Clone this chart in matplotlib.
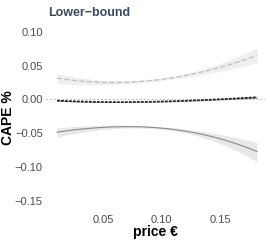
import numpy as np
import matplotlib
matplotlib.use("Agg")
import matplotlib.pyplot as plt

plt.rcParams['font.family'] = ['Liberation Sans', 'DejaVu Sans']

# data
price = [0.0107, 0.03, 0.05, 0.077, 0.107, 0.135, 0.16, 0.1816]
upper_fit = [0.0315, 0.027, 0.025, 0.026, 0.031, 0.041, 0.052, 0.065]
upper_lo = [0.0225, 0.022, 0.0225, 0.0235, 0.028, 0.037, 0.046, 0.053]
upper_hi = [0.0385, 0.032, 0.0275, 0.0285, 0.034, 0.045, 0.058, 0.077]
mid_fit = [-0.002, -0.003, -0.004, -0.004, -0.003, -0.001, 0.001, 0.003]
mid_lo = [-0.003, -0.0038, -0.0046, -0.0046, -0.0037, -0.002, 0.0, 0.0015]
mid_hi = [-0.001, -0.0022, -0.0034, -0.0034, -0.0023, 0.0, 0.002, 0.0045]
lower_fit = [-0.049, -0.044, -0.041, -0.0405, -0.045, -0.052, -0.062, -0.078]
lower_lo = [-0.057, -0.048, -0.0435, -0.043, -0.048, -0.056, -0.070, -0.094]
lower_hi = [-0.042, -0.040, -0.0385, -0.038, -0.042, -0.048, -0.055, -0.064]

xticks = [0.05, 0.10, 0.15]
yticks = [0.10, 0.05, 0.00, -0.05, -0.10, -0.15]

fig = plt.figure(figsize=(2.7, 2.4), dpi=100)
ax = fig.add_axes([46.3/270, 1 - 212/240, (265 - 46.3)/270, (212 - 28.6)/240])

def smooth(x, y):
    xs = np.linspace(min(x), max(x), 100)
    c = np.polyfit(x, y, 3)
    return xs, np.polyval(c, xs)

ax.axhline(0, color='#BBBBBB', lw=0.7, ls=(0, (2, 2)), zorder=1)

for fit, lo, hi, col, ls, lw, fill in [
    (upper_fit, upper_lo, upper_hi, '#BDBDBD', (0, (4, 2)), 0.9, '#EFEFEF'),
    (mid_fit, mid_lo, mid_hi, '#1A1A1A', (0, (1.6, 0.8)), 1.2, '#9A9A9A'),
    (lower_fit, lower_lo, lower_hi, '#8A8A8A', '-', 0.8, '#E8E8E8'),
]:
    xs, ylo = smooth(price, lo)
    _, yhi = smooth(price, hi)
    _, yf = smooth(price, fit)
    ax.fill_between(xs, ylo, yhi, color=fill, lw=0, zorder=2)
    ax.plot(xs, yf, color=col, ls=ls, lw=lw, zorder=3)

ax.set_xlim(0.0015, 0.1885)
ax.set_ylim(-0.1667, 0.1046)
ax.set_xticks(xticks)
ax.set_xticklabels([f"{v:.2f}" for v in xticks])
ax.set_yticks(yticks)
ax.set_yticklabels([f"{v:.2f}".replace('-', '\u2212') for v in yticks])
ax.tick_params(length=0, labelsize=8, labelcolor='#4D4D4D', pad=2.5)
for s in ax.spines.values():
    s.set_visible(False)

ax.set_xlabel('price €', fontsize=10, fontweight='bold', labelpad=0)
fig.text(8/270, 1 - 118/240, 'CAPE %', fontsize=10, fontweight='bold',
         rotation=90, ha='center', va='center')
fig.text(48/270, 1 - 12.5/240, 'Lower\u2212bound', fontsize=9, fontweight='bold',
         color='#3B4A5E', ha='left', va='center')

fig.savefig('out.png', dpi=100)
